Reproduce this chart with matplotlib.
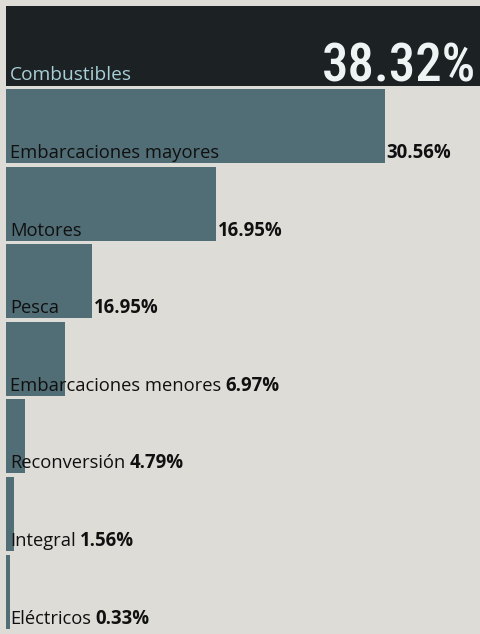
import matplotlib
matplotlib.use("Agg")
import matplotlib.pyplot as plt

# data (the header row "Combustibles" is the first bar)
categories = ["Combustibles", "Embarcaciones mayores", "Motores", "Pesca",
              "Embarcaciones menores", "Reconversión", "Integral", "Eléctricos"]
value_labels = ["38.32%", "30.56%", "16.95%", "16.95%", "6.97%", "4.79%", "1.56%", "0.33%"]
# bar lengths as printed in the graphic (they do not all match the labels)
bar_lengths = [38.32, 30.56, 16.95, 6.95, 4.8, 1.55, 0.62, 0.3]

paper = "#dddcd7"
bar_col = "#516d75"
head_col = "#1c2224"

W, H = 481, 634
fig = plt.figure(figsize=(W / 100, H / 100), dpi=100, facecolor=paper)
ax = fig.add_axes([0, 0, 1, 1])
ax.set_facecolor(paper)

px_per_unit = 475 / 38.32   # header bar fills the width
ax.set_xlim(-6 / px_per_unit, (W - 6) / px_per_unit)
ax.set_ylim(H, 0)           # y axis in pixel rows
ax.axis("off")

# row layout: taller header, then evenly spaced bars
centers = [46] + [126 + 77.6 * (i - 1) for i in range(1, len(categories))]
heights = [80] + [74] * (len(categories) - 1)
colors = [head_col] + [bar_col] * (len(categories) - 1)
ax.barh(centers, bar_lengths, height=heights, color=colors)

lab_font = ["Open Sans", "DejaVu Sans"]
gap = 3 / px_per_unit
fig.canvas.draw()
r = fig.canvas.get_renderer()
inv = ax.transData.inverted()

for i, (cat, vl, bl) in enumerate(zip(categories, value_labels, bar_lengths)):
    base = centers[i] + heights[i] / 2 - 5
    if i == 0:
        ax.text(4 / px_per_unit, base - 1, cat, color="#a8cfd7", fontsize=13.8,
                family=lab_font, va="baseline", ha="left")
        ax.text((W - 6 - 5) / px_per_unit, base, vl, color="#eef3f3",
                fontsize=38, fontstretch="condensed", fontweight="medium",
                family=["Roboto Condensed", "DejaVu Sans"],
                va="baseline", ha="right")
        continue
    t = ax.text(4 / px_per_unit, base, cat, color="#101010", fontsize=13.2,
                family=lab_font, va="baseline", ha="left")
    bb = t.get_window_extent(r)
    text_end = inv.transform((bb.x1, bb.y0))[0]
    xv = max(bl, text_end + gap)
    ax.text(xv + gap * 0.5, base, vl, color="#101010", fontsize=13.4, fontweight="bold",
            family=lab_font, va="baseline", ha="left")

fig.savefig("out.png", dpi=100, facecolor=paper)
